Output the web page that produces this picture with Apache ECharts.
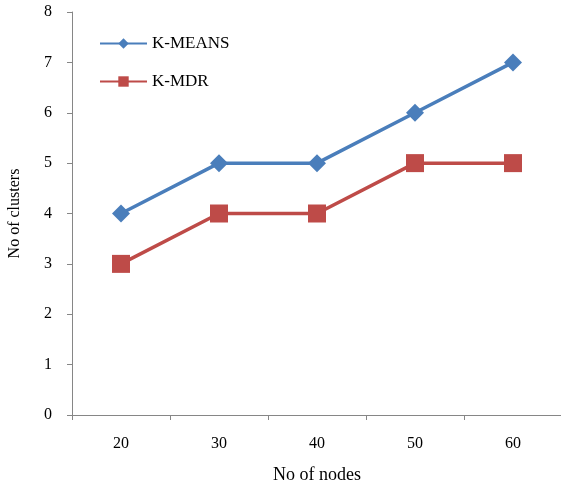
<!DOCTYPE html>
<html><head><meta charset="utf-8">
<script src="https://cdn.jsdelivr.net/npm/echarts@6/dist/echarts.min.js"></script>
<style>html,body{margin:0;padding:0;background:#fff}#c{width:561px;height:482px}</style>
</head><body><div id="c"></div>
<script>
var categories = ['20','30','40','50','60'];
var kmeans = [4,5,5,6,7];
var kmdr = [3,4,4,5,5];
var yTicks = [0,1,2,3,4,5,6,7,8];
var font = '"Liberation Serif","Times New Roman",serif';
var chart = echarts.init(document.getElementById('c'));
chart.setOption({
  animation:false,
  textStyle:{fontFamily:font},
  grid:{left:72,top:12,width:490,bottom:67,containLabel:false,outerBoundsMode:'none'},
  legend:{orient:'vertical',left:94,top:30,itemWidth:47,itemHeight:13,itemGap:21,
    textStyle:{fontFamily:font,fontSize:17,color:'#000'},
    data:['K-MEANS','K-MDR']},
  xAxis:{type:'category',data:categories,boundaryGap:true,
    name:'No of nodes',nameLocation:'middle',nameGap:51,
    nameTextStyle:{fontFamily:font,fontSize:18,color:'#000'},
    axisLine:{lineStyle:{color:'#868686',width:1}},
    axisTick:{show:true,length:5,alignWithLabel:false,lineStyle:{color:'#868686'}},
    axisLabel:{fontFamily:font,fontSize:16,color:'#000',margin:21}},
  yAxis:{type:'value',min:0,max:8,interval:1,
    name:'No of clusters',nameLocation:'middle',nameGap:49,
    nameTextStyle:{fontFamily:font,fontSize:16,color:'#000'},
    axisLine:{show:true,lineStyle:{color:'#868686',width:1}},
    axisTick:{show:true,length:5,lineStyle:{color:'#868686'}},
    splitLine:{show:false},
    axisLabel:{fontFamily:font,fontSize:16,color:'#000',margin:20,
      formatter:function(v){return yTicks.indexOf(v)>=0?String(v):'';}}},
  series:[
    {name:'K-MEANS',type:'line',data:kmeans,symbol:'diamond',symbolSize:18,
     lineStyle:{color:'#4A7EBB',width:3.5},itemStyle:{color:'#4A7EBB'}},
    {name:'K-MDR',type:'line',data:kmdr,symbol:'rect',symbolSize:18,
     lineStyle:{color:'#BE4B48',width:3.5},itemStyle:{color:'#BE4B48'}}
  ]
});
</script></body></html>
